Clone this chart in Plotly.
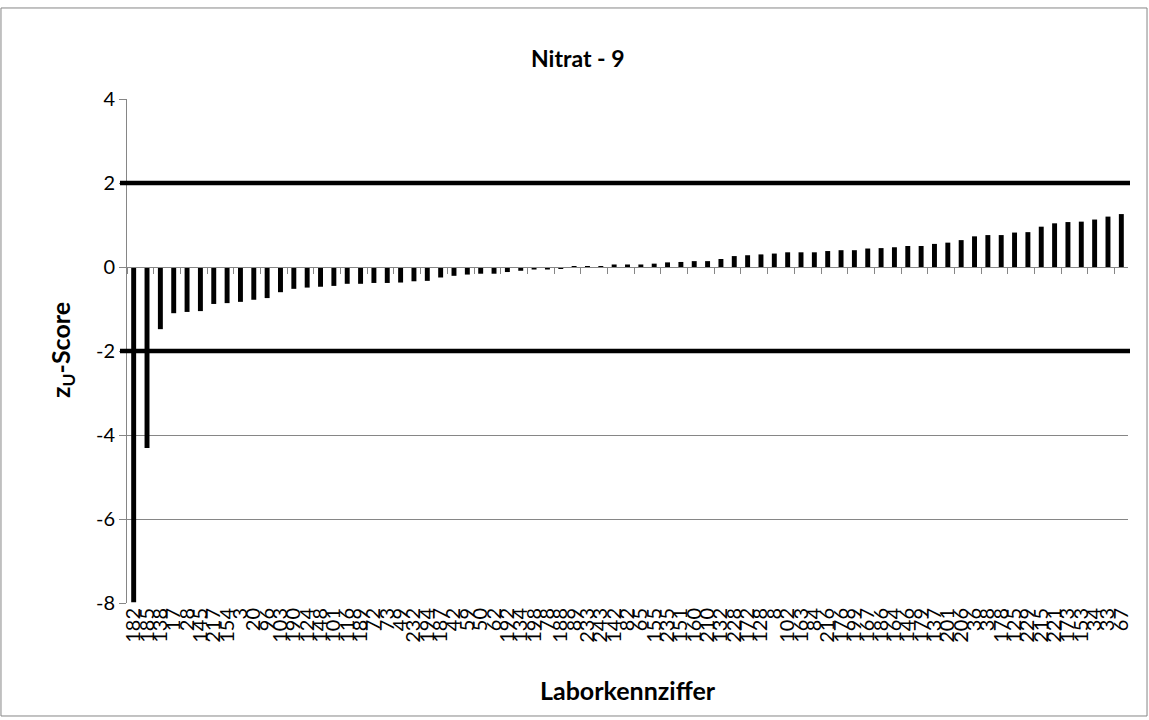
import plotly.graph_objects as go

labels = ["182", "185", "138", "17", "28", "145", "217", "154", "3", "20",
          "96", "103", "190", "124", "148", "101", "116", "189", "72", "73",
          "49", "232", "194", "187", "42", "59", "50", "62", "192", "134",
          "198", "78", "188", "89", "233", "243", "142", "82", "65", "155",
          "235", "151", "160", "210", "132", "228", "172", "128", "8", "102",
          "163", "84", "216", "176", "199", "167", "186", "164", "146", "179",
          "137", "201", "206", "36", "38", "178", "125", "229", "215", "221",
          "173", "153", "34", "33", "67"]

zu_scores = [-7.98, -4.31, -1.48, -1.10, -1.07, -1.05, -0.88, -0.86, -0.83, -0.78,
             -0.74, -0.60, -0.52, -0.49, -0.47, -0.45, -0.40, -0.40, -0.38, -0.38,
             -0.37, -0.34, -0.33, -0.25, -0.21, -0.18, -0.16, -0.16, -0.12, -0.09,
             -0.06, -0.06, -0.03, 0.01, 0.01, 0.01, 0.06, 0.06, 0.06, 0.08,
             0.11, 0.12, 0.14, 0.14, 0.19, 0.26, 0.28, 0.30, 0.32, 0.35,
             0.35, 0.35, 0.38, 0.40, 0.40, 0.44, 0.45, 0.47, 0.50, 0.50,
             0.55, 0.58, 0.64, 0.73, 0.76, 0.76, 0.82, 0.83, 0.96, 1.04,
             1.07, 1.08, 1.13, 1.20, 1.26]

limits = [2, -2]
y_ticks = [-8, -6, -4, -2, 0, 2, 4]

GRID = "#868686"
FONT = "Lato"

fig = go.Figure()
fig.add_trace(go.Bar(x=labels, y=zu_scores, marker_color="black",
                     marker_line_width=0, width=0.37, showlegend=False))
# invisible trace carrying the category axis drawn at zero
fig.add_trace(go.Scatter(x=labels, y=[0] * len(labels), xaxis="x2", mode="markers",
                         marker=dict(opacity=0), showlegend=False, hoverinfo="skip"))

for lv in limits:
    fig.add_shape(type="line", xref="paper", yref="y", x0=-0.007, x1=1.002,
                  y0=lv, y1=lv, line=dict(color="black", width=4.5), layer="above")

# outer chart border
fig.add_shape(type="rect", xref="paper", yref="paper",
              x0=-0.1259, x1=1.019, y0=-0.2242, y1=1.1806,
              line=dict(color=GRID, width=1))

fig.update_layout(
    width=1149, height=720, autosize=False,
    margin=dict(l=127, r=21, t=99, b=117),
    paper_bgcolor="white", plot_bgcolor="white",
    font=dict(family=FONT, color="black"),
    xaxis=dict(type="category", categoryorder="array", categoryarray=labels,
               range=[-0.5, len(labels) - 0.5],
               tickmode="array", tickvals=labels, ticktext=labels,
               tickangle=-90, tickfont=dict(size=20, family=FONT),
               showline=False, showgrid=False, ticks="", zeroline=False),
    xaxis2=dict(type="category", categoryorder="array", categoryarray=labels,
                range=[-0.5, len(labels) - 0.5], overlaying="x", anchor="free",
                position=8 / 12, showticklabels=False, showline=True,
                linecolor=GRID, linewidth=1.3, ticks="outside", tickson="boundaries",
                ticklen=6, tickcolor=GRID, showgrid=False, zeroline=False),
    yaxis=dict(range=[-8, 4], tickmode="array", tickvals=y_ticks,
               ticktext=[str(v) for v in y_ticks],
               tickfont=dict(size=20, family=FONT), showgrid=True, gridcolor=GRID,
               gridwidth=1, showline=True, linecolor=GRID, linewidth=1,
               ticks="outside", ticklen=7, tickcolor=GRID, zeroline=False),
    annotations=[
        dict(text="<b>Nitrat - 9</b>", xref="paper", yref="paper", x=0.4505, y=1.081,
             showarrow=False, font=dict(size=23, family=FONT), xanchor="center",
             yanchor="middle"),
        dict(text="<b>z<sub>U</sub>-Score</b>", xref="paper", yref="paper", x=-0.065,
             y=0.502, showarrow=False, textangle=-90, font=dict(size=25, family=FONT),
             xanchor="center", yanchor="middle"),
        dict(text="<b>Laborkennziffer</b>", xref="paper", yref="paper", x=0.5,
             y=-0.1726, showarrow=False, font=dict(size=25, family=FONT),
             xanchor="center", yanchor="middle"),
    ],
)

fig.write_html("out.html", config={"displayModeBar": False},
               post_script="document.body.style.margin='0';")
